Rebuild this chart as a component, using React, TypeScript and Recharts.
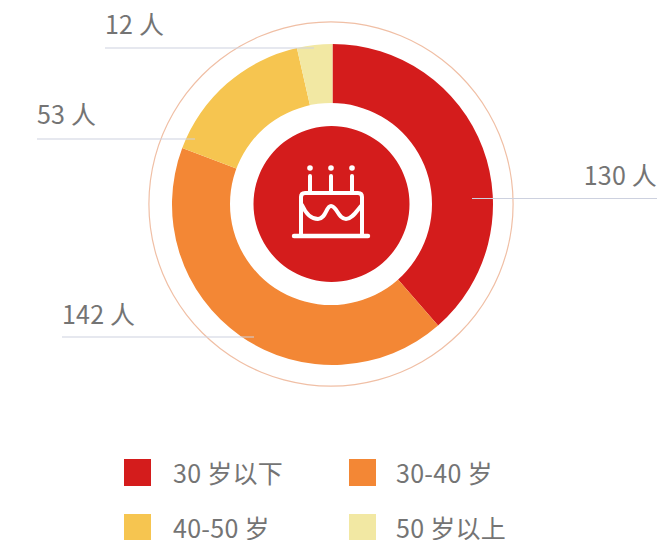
import { PieChart, Pie, Cell, Legend } from "recharts";

const categories = ["30 岁以下", "30-40 岁", "40-50 岁", "50 岁以上"];
const counts = [130, 142, 53, 12];
const colors = ["#D41C1C", "#F38735", "#F6C550", "#F2E8A3"];

const FONT = '"Noto Sans CJK SC", "Noto Sans", sans-serif';

const data = categories.map((name, i) => ({ name, value: counts[i] }));
const ringData = [{ name: "ring", value: 1 }];

// leader line layout: x range, line height and text baseline of each callout
const leaders = [
  { x1: 472, x2: 657, y: 198.5, textY: 185, anchor: "end" },
  { x1: 62, x2: 254, y: 337, textY: 324, anchor: "start" },
  { x1: 37, x2: 195, y: 139, textY: 124, anchor: "start" },
  { x1: 105, x2: 314, y: 48, textY: 34, anchor: "start" },
];

function renderLabel(props: any) {
  const l = leaders[props.index];
  return (
    <g key={props.index}>
      <line x1={l.x1} x2={l.x2} y1={l.y} y2={l.y} stroke="#CDD1DF" strokeWidth={1} />
      <text
        x={l.anchor === "end" ? l.x2 : l.x1}
        y={l.textY}
        textAnchor={l.anchor}
        fontSize={25}
        fontWeight={400}
        letterSpacing={0.2}
        fontFamily={FONT}
        fill="#747474"
      >
        {props.value} 人
      </text>
    </g>
  );
}

function LegendGrid() {
  return (
    <div style={{ position: "relative", width: 661, height: 81, fontFamily: FONT }}>
      {categories.map((name, i) => {
        const left = i % 2 === 0 ? 124 : 349;
        const top = i < 2 ? 0 : 55;
        return (
          <div key={name} style={{ position: "absolute", left, top, display: "flex", alignItems: "center", height: 27 }}>
            <span style={{ width: 27, height: 27, background: colors[i], display: "inline-block" }} />
            <span style={{ marginLeft: i % 2 === 0 ? 22 : 20, fontSize: 25, lineHeight: "27px", letterSpacing: 0.3, fontWeight: 400, color: "#747474", whiteSpace: "nowrap" }}>
              {name}
            </span>
          </div>
        );
      })}
    </div>
  );
}

function CakeIcon() {
  return (
    <svg width={661} height={540} style={{ position: "absolute", left: 0, top: 0, pointerEvents: "none" }}>
      <g fill="none" stroke="#FFFFFF" strokeWidth={4} strokeLinecap="round" strokeLinejoin="round">
        <path d="M294 236 H368" strokeWidth={4.4} />
        <path d="M301 235 V197 Q301 193 305 193 H358 Q362 193 362 197 V235" />
        <path d="M302 205 C306 214 311 219 318 219 C326 219 326 206 331 206 C337 206 338 219 346 219 C352 219 356 212 361 206" />
        <path d="M310 176 V192 M331 176 V192 M352 176 V192" />
        <circle cx={310} cy={168} r={2.8} fill="#FFFFFF" stroke="none" />
        <circle cx={331} cy={168} r={2.8} fill="#FFFFFF" stroke="none" />
        <circle cx={352} cy={168} r={2.8} fill="#FFFFFF" stroke="none" />
      </g>
    </svg>
  );
}

export default function App() {
  return (
    <div style={{ position: "absolute", left: 0, top: 0, width: 661, height: 540 }}>
      <PieChart width={661} height={540} margin={{ top: 0, right: 0, bottom: 0, left: 0 }}>
        <Pie
          data={ringData}
          dataKey="value"
          cx={331}
          cy={204}
          innerRadius={181.5}
          outerRadius={182.7}
          stroke="none"
          fill="#F0BFA5"
          isAnimationActive={false}
        />
        <Pie
          data={data}
          dataKey="value"
          nameKey="name"
          cx={332.5}
          cy={204.5}
          innerRadius={95}
          outerRadius={160.5}
          startAngle={90}
          endAngle={-270}
          stroke="none"
          label={renderLabel}
          labelLine={false}
          isAnimationActive={false}
        >
          {data.map((d, i) => (
            <Cell key={d.name} fill={colors[i]} />
          ))}
        </Pie>
        <Pie
          data={ringData}
          dataKey="value"
          cx={331}
          cy={204}
          innerRadius={0}
          outerRadius={101}
          stroke="none"
          fill="#FFFFFF"
          isAnimationActive={false}
        />
        <Pie
          data={ringData}
          dataKey="value"
          cx={331.5}
          cy={204}
          innerRadius={0}
          outerRadius={78}
          stroke="none"
          fill="#D41C1C"
          isAnimationActive={false}
        />
        <Legend
          content={<LegendGrid />}
          wrapperStyle={{ position: "absolute", left: 0, top: 459, width: 661, height: 81 }}
        />
      </PieChart>
      <CakeIcon />
    </div>
  );
}
